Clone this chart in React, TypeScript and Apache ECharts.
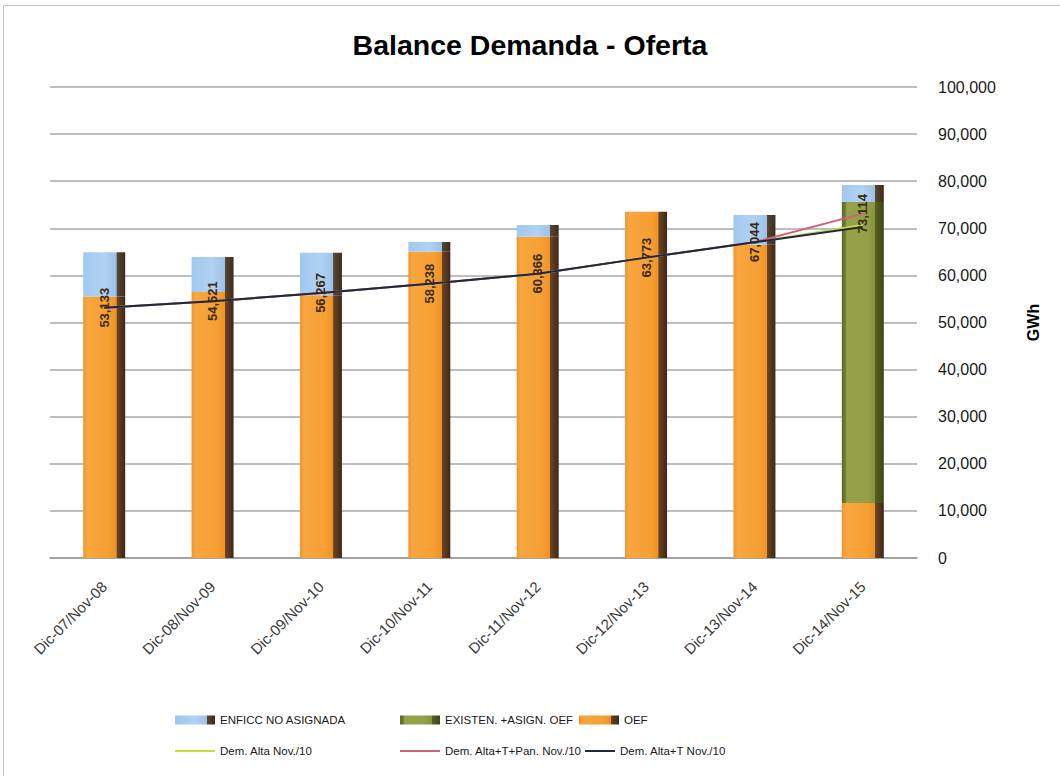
import React, { useEffect, useRef } from "react";
import * as echarts from "echarts";

const categories = [
  "Dic-07/Nov-08",
  "Dic-08/Nov-09",
  "Dic-09/Nov-10",
  "Dic-10/Nov-11",
  "Dic-11/Nov-12",
  "Dic-12/Nov-13",
  "Dic-13/Nov-14",
  "Dic-14/Nov-15",
];

const oef = [55500, 56500, 55800, 65000, 68200, 73500, 66500, 11700];
const existenAsign = [null, null, null, null, null, null, null, 63900];
const enficcNoAsignada = [9400, 7400, 9000, 2100, 2500, null, 6300, 3600];

const demAlta = [53133, 54521, 56267, 58238, 60366, 63773, 67044, 70700];
const demAltaTPan = [53133, 54521, 56267, 58238, 60366, 63773, 67044, 73114];
const demAltaT = [53133, 54521, 56267, 58238, 60366, 63773, 67044, 70300];

const yTicks = { min: 0, max: 100000, interval: 10000 };

const FONT = "'Liberation Sans', Arial, sans-serif";

const grad = (stops: [number, string][]) => ({
  type: "linear",
  x: 0,
  y: 0,
  x2: 1,
  y2: 0,
  colorStops: stops.map(([offset, color]) => ({ offset, color })),
});

const orangeFill = grad([
  [0, "#F0962E"],
  [0.1, "#F8A640"],
  [0.6, "#F69F33"],
  [0.79, "#EE9326"],
  [0.8, "#6B4526"],
  [1, "#3F2816"],
]);
const blueFill = grad([
  [0, "#A2C8EE"],
  [0.5, "#B0D2F3"],
  [0.79, "#9CC2E8"],
  [0.8, "#5A4632"],
  [1, "#3C2C1E"],
]);
const greenFill = grad([
  [0, "#5E6A28"],
  [0.08, "#6E7A30"],
  [0.12, "#96A24A"],
  [0.6, "#93A048"],
  [0.79, "#87933D"],
  [0.8, "#56601F"],
  [1, "#3E4716"],
]);

export default function App() {
  const ref = useRef<HTMLDivElement>(null);

  useEffect(() => {
    if (!ref.current) return;
    const chart = echarts.init(ref.current, null, { renderer: "svg" });
    const legendText = { fontFamily: FONT, fontSize: 11.5, color: "#1a1a1a" };
    const mkLegend = (name: string, left: number, top: number, isLine: boolean, w = 40) => ({
      data: [name],
      left,
      top,
      orient: "horizontal",
      icon: "rect",
      itemWidth: w,
      itemHeight: isLine ? 2 : 9,
      itemGap: 4,
      textStyle: legendText,
      selectedMode: false,
    });
    chart.setOption({
      animation: false,
      backgroundColor: "#ffffff",
      title: {
        text: "Balance Demanda - Oferta",
        left: "center",
        top: 25,
        textStyle: { fontFamily: FONT, fontSize: 28.5, fontWeight: "bold", color: "#000" },
      },
      graphic: [
        {
          type: "rect",
          silent: true,
          shape: { x: 3.5, y: 5.5, width: 1060, height: 790 },
          style: { fill: "none", stroke: "#c4c4c4", lineWidth: 1 },
        },
      ],
      legend: [
        mkLegend("ENFICC NO ASIGNADA", 170, 709, false),
        mkLegend("EXISTEN. +ASIGN. OEF", 395, 709, false),
        mkLegend("OEF", 574, 709, false),
        mkLegend("Dem. Alta Nov./10", 170, 740, true),
        mkLegend("Dem. Alta+T+Pan. Nov./10", 395, 740, true),
        mkLegend("Dem. Alta+T Nov./10", 580, 740, true, 30),
      ],
      grid: { left: 50, right: 143, top: 87, bottom: 218, containLabel: false },
      xAxis: {
        type: "category",
        data: categories,
        boundaryGap: true,
        axisTick: { show: false },
        axisLine: { lineStyle: { color: "#9a9a9a", width: 1.5 } },
        axisLabel: {
          rotate: 45,
          margin: 26,
          fontFamily: FONT,
          fontSize: 15,
          color: "#3a3a3a",
        },
      },
      yAxis: {
        type: "value",
        position: "right",
        min: yTicks.min,
        max: yTicks.max,
        interval: yTicks.interval,
        name: "GWh",
        nameLocation: "middle",
        nameRotate: 90,
        nameGap: 108,
        nameTextStyle: { fontFamily: FONT, fontSize: 16, fontWeight: "bold", color: "#000" },
        axisLine: { show: false },
        axisTick: { show: false },
        axisLabel: {
          margin: 21,
          fontFamily: FONT,
          fontSize: 16,
          color: "#1a1a1a",
          align: "left",
          formatter: (v: number) => v.toLocaleString("en-US"),
        },
        splitLine: { lineStyle: { color: "#a8a8a8", width: 1.5 } },
      },
      series: [
        {
          name: "OEF",
          type: "bar",
          stack: "a",
          barWidth: 42,
          data: oef,
          itemStyle: { color: orangeFill },
        },
        {
          name: "EXISTEN. +ASIGN. OEF",
          type: "bar",
          stack: "a",
          barWidth: 42,
          data: existenAsign,
          itemStyle: { color: greenFill },
        },
        {
          name: "ENFICC NO ASIGNADA",
          type: "bar",
          stack: "a",
          barWidth: 42,
          data: enficcNoAsignada,
          itemStyle: { color: blueFill },
        },
        {
          name: "Dem. Alta Nov./10",
          type: "line",
          symbol: "none",
          data: demAlta,
          lineStyle: { color: "#C9DB3A", width: 2 },
          itemStyle: { color: "#C9DB3A" },
          z: 3,
        },
        {
          name: "Dem. Alta+T+Pan. Nov./10",
          type: "line",
          symbol: "circle",
          showSymbol: true,
          symbolSize: 1,
          data: demAltaTPan,
          lineStyle: { color: "#D0607A", width: 2 },
          itemStyle: { color: "#D0607A" },
          label: {
            show: true,
            position: "inside",
            rotate: 90,
            fontFamily: FONT,
            fontSize: 13,
            fontWeight: "bold",
            color: "#3a2a12",
            formatter: (p: any) => Number(p.value).toLocaleString("en-US"),
          },
          z: 3,
        },
        {
          name: "Dem. Alta+T Nov./10",
          type: "line",
          symbol: "none",
          data: demAltaT,
          lineStyle: { color: "#1F2840", width: 2 },
          itemStyle: { color: "#1F2840" },
          z: 4,
        },
      ],
    });
    return () => chart.dispose();
  }, []);

  return (
    <div
      ref={ref}
      style={{ position: "fixed", left: 0, top: 0, width: 1060, height: 776, background: "#fff" }}
    />
  );
}
